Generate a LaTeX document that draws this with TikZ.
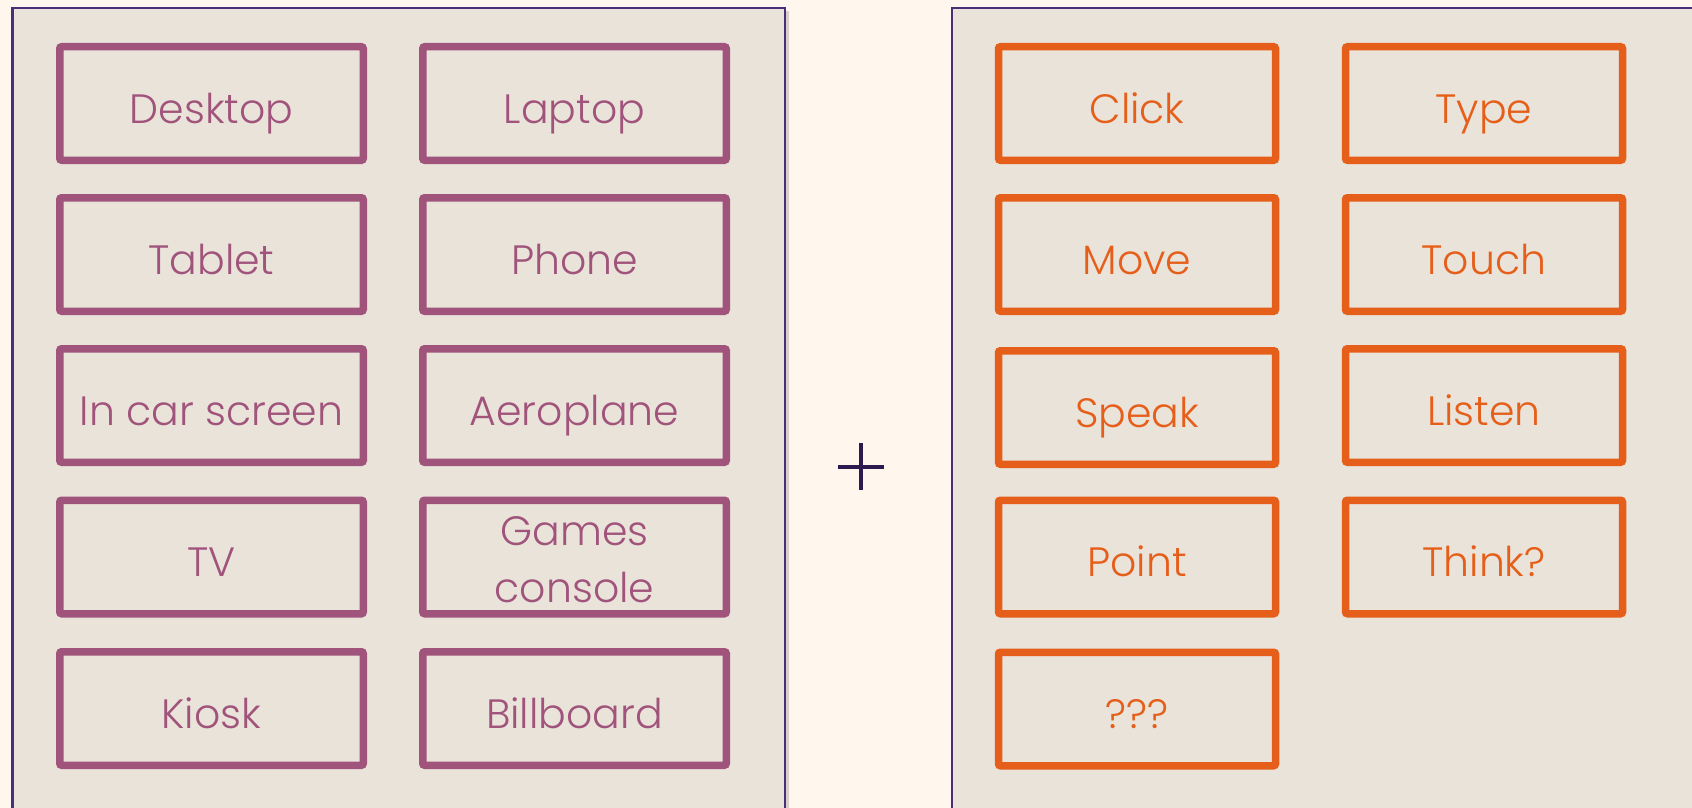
\documentclass[tikz,border=0pt]{standalone}
\usepackage{fontspec}
\setmainfont{Poppins Light}
\definecolor{bg}{HTML}{FFF6EE}
\definecolor{panelfill}{HTML}{EAE3DA}
\definecolor{panelline}{HTML}{4A2E78}
\definecolor{shadowc}{HTML}{D8D0C6}
\definecolor{plum}{HTML}{A0537B}
\definecolor{orng}{HTML}{E65F1A}
\definecolor{plusc}{HTML}{2E1A4F}
\tikzset{
  panel/.style={fill=panelfill, draw=panelline, line width=2.2pt},
  cardbox/.style={line width=7.5pt, rounded corners=2pt,
    minimum height=113.5pt, inner sep=0pt,
    text height=45pt, text depth=6pt,
    font=\fontsize{41}{54}\selectfont, align=center},
  devbox/.style={cardbox, draw=plum, text=plum, minimum width=303.5pt},
  actbox/.style={cardbox, draw=orng, text=orng, minimum width=277pt},
}
\begin{document}
\begin{tikzpicture}[x=1pt,y=-1pt]
\useasboundingbox (0,0) rectangle (1692,808);
\fill[bg] (0,0) rectangle (1692,808);
% panels
\fill[shadowc] (15.5,11) rectangle (788.5,812);
\draw[panel] (12.5,8) rectangle (785,812);
\fill[shadowc] (955,11) rectangle (1700,812);
\draw[panel] (952,8) rectangle (1700,812);
% left boxes
\node[devbox] (desktop) at (211.5,103.5) {Desktop};
\node[devbox] (laptop) at (574.5,103.5) {Laptop};
\node[devbox] (tablet) at (211.5,254.5) {Tablet};
\node[devbox] (phone) at (574.5,254.5) {Phone};
\node[devbox] (incar) at (211.5,405.5) {In car screen};
\node[devbox] (aero) at (574.5,405.5) {Aeroplane};
\node[devbox] (tv) at (211.5,557) {TV};
\node[devbox, text height=95pt, text depth=4pt] (games) at (574.5,557) {Games\\[3pt]console};
\node[devbox] (kiosk) at (211.5,708.5) {Kiosk};
\node[devbox] (billboard) at (574.5,708.5) {Billboard};
% plus
\draw[plusc, line width=4pt] (838,467) -- (884,467);
\draw[plusc, line width=4pt] (861,443) -- (861,490);
% right boxes
\node[actbox] (click) at (1137,103.5) {Click};
\node[actbox] (type) at (1484,103.5) {Type};
\node[actbox] (move) at (1137,254.5) {Move};
\node[actbox] (touch) at (1484,254.5) {Touch};
\node[actbox] (speak) at (1137,407.5) {Speak};
\node[actbox] (listen) at (1484,405.5) {Listen};
\node[actbox] (point) at (1137,557) {Point};
\node[actbox] (think) at (1484,557) {Think?};
\node[actbox] (qqq) at (1137,709) {???};
\end{tikzpicture}
\end{document}
